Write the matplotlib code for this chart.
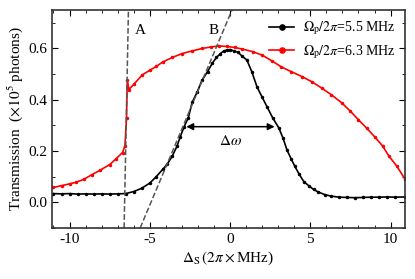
import matplotlib
matplotlib.use("Agg")
import matplotlib.pyplot as plt
import numpy as np

plt.rcParams['font.family'] = ['Liberation Serif', 'DejaVu Serif']
plt.rcParams['mathtext.fontset'] = 'stix'

# black curve, Omega_p/2pi = 5.5 MHz
det_b = [-11, -10.5, -10, -9.5, -9, -8.5, -8, -7.5, -7, -6.5, -6, -5.5, -5, -4.6, -4.2,
         -3.9, -3.6, -3.3, -3.1, -2.86, -2.6, -2.36, -2.05, -1.74, -1.4, -1.1, -0.85, -0.6,
         -0.4, -0.2, 0.0, 0.25, 0.5, 0.75, 1.05, 1.35, 1.68, 2.0, 2.3, 2.65, 3.04, 3.3, 3.54,
         3.8, 4.04, 4.3, 4.6, 4.9, 5.2, 5.5, 5.9, 6.3, 6.8, 7.3, 7.8, 8.3, 8.8, 9.3, 9.8,
         10.3, 10.9]
trans_b = [0.034, 0.033, 0.034, 0.032, 0.033, 0.032, 0.033, 0.032, 0.033, 0.034, 0.042, 0.055,
           0.075, 0.10, 0.128, 0.15, 0.18, 0.22, 0.256, 0.295, 0.33, 0.39, 0.43, 0.477, 0.51,
           0.543, 0.565, 0.58, 0.59, 0.594, 0.596, 0.59, 0.585, 0.57, 0.555, 0.51, 0.45, 0.41,
           0.373, 0.33, 0.29, 0.25, 0.205, 0.17, 0.14, 0.11, 0.08, 0.065, 0.05, 0.04, 0.03,
           0.024, 0.02, 0.019, 0.018, 0.019, 0.02, 0.02, 0.021, 0.02, 0.021]

# red curve, Omega_p/2pi = 6.3 MHz
det_r = [-11, -10.5, -10, -9.6, -9.1, -8.6, -8.1, -7.5, -7.1, -6.7, -6.55, -6.45, -6.4, -6.3,
         -6.0, -5.47, -5.0, -4.6, -4.2, -3.6, -3.0, -2.4, -1.74, -1.2, -0.7, -0.2, 0.3, 0.75,
         1.4, 2.0, 2.6, 3.2, 3.8, 4.5, 5.1, 5.7, 6.3, 6.96, 7.5, 8.0, 8.5, 9.0, 9.5, 9.9, 10.4,
         10.9]
trans_r = [0.058, 0.065, 0.072, 0.078, 0.09, 0.108, 0.125, 0.147, 0.17, 0.194, 0.22, 0.33,
           0.477, 0.44, 0.46, 0.497, 0.515, 0.53, 0.547, 0.565, 0.58, 0.59, 0.6, 0.606, 0.61,
           0.608, 0.604, 0.598, 0.588, 0.574, 0.552, 0.528, 0.51, 0.49, 0.47, 0.446, 0.42,
           0.388, 0.355, 0.322, 0.29, 0.256, 0.22, 0.18, 0.14, 0.09]

# dashed guide lines A and B (end points)
line_a_x = [-6.6, -6.33]
line_b_x = [-5.6, 0.12]
guide_y = [-0.1, 0.75]

fig = plt.figure(figsize=(4.15, 2.79), dpi=100)
ax = fig.add_axes([0.125, 0.183, 0.851, 0.781])

ax.plot(det_b, trans_b, color='black', marker='o', ms=1.5, lw=1.2,
        label=r'$\Omega_{\rm p}/2\pi$=5.5 MHz')
ax.plot(det_r, trans_r, color='red', marker='o', ms=1.5, lw=1.2,
        label=r'$\Omega_{\rm p}/2\pi$=6.3 MHz')
ax.plot(line_a_x, guide_y, color='#555555', ls='--', lw=1.1)
ax.plot(line_b_x, guide_y, color='#555555', ls='--', lw=1.1)

ax.annotate('', xy=(-2.9, 0.295), xytext=(2.95, 0.295),
            arrowprops=dict(arrowstyle='<|-|>', color='black', lw=1.1, mutation_scale=10))
ax.text(0.0, 0.24, r'$\Delta\omega$', ha='center', va='center', fontsize=11)
ax.text(-5.6, 0.67, 'A', ha='center', va='center', fontsize=11)
ax.text(-1.05, 0.67, 'B', ha='center', va='center', fontsize=11)

ax.set_xlim(-11.1, 10.9)
ax.set_ylim(-0.1, 0.75)
ax.set_xticks([-10, -5, 0, 5, 10])
ax.set_xticklabels(['-10', '-5', '0', '5', '10'])
ax.set_xticks(np.arange(-11, 11, 1), minor=True)
ax.set_yticks([0.0, 0.2, 0.4, 0.6])
ax.set_yticks([-0.1, 0.1, 0.3, 0.5, 0.7], minor=True)
ax.tick_params(which='both', direction='in', top=True, right=True, labelsize=11)
ax.tick_params(which='major', length=4)
ax.tick_params(which='minor', length=2.5)
for s in ax.spines.values():
    s.set_linewidth(1.2)
    s.set_color('#333333')

ax.set_xlabel(r'$\Delta_{\rm S}\,(2\pi\times$MHz)', fontsize=11, labelpad=3)
ax.set_ylabel(r'Transmission  ($\times 10^5$ photons)', fontsize=11, labelpad=2)

ax.legend(loc='upper right', frameon=False, fontsize=10, handlelength=1.8,
          handletextpad=0.6, borderaxespad=0.3, labelspacing=0.4, markerscale=2.5)

fig.savefig('out.png', dpi=100)
